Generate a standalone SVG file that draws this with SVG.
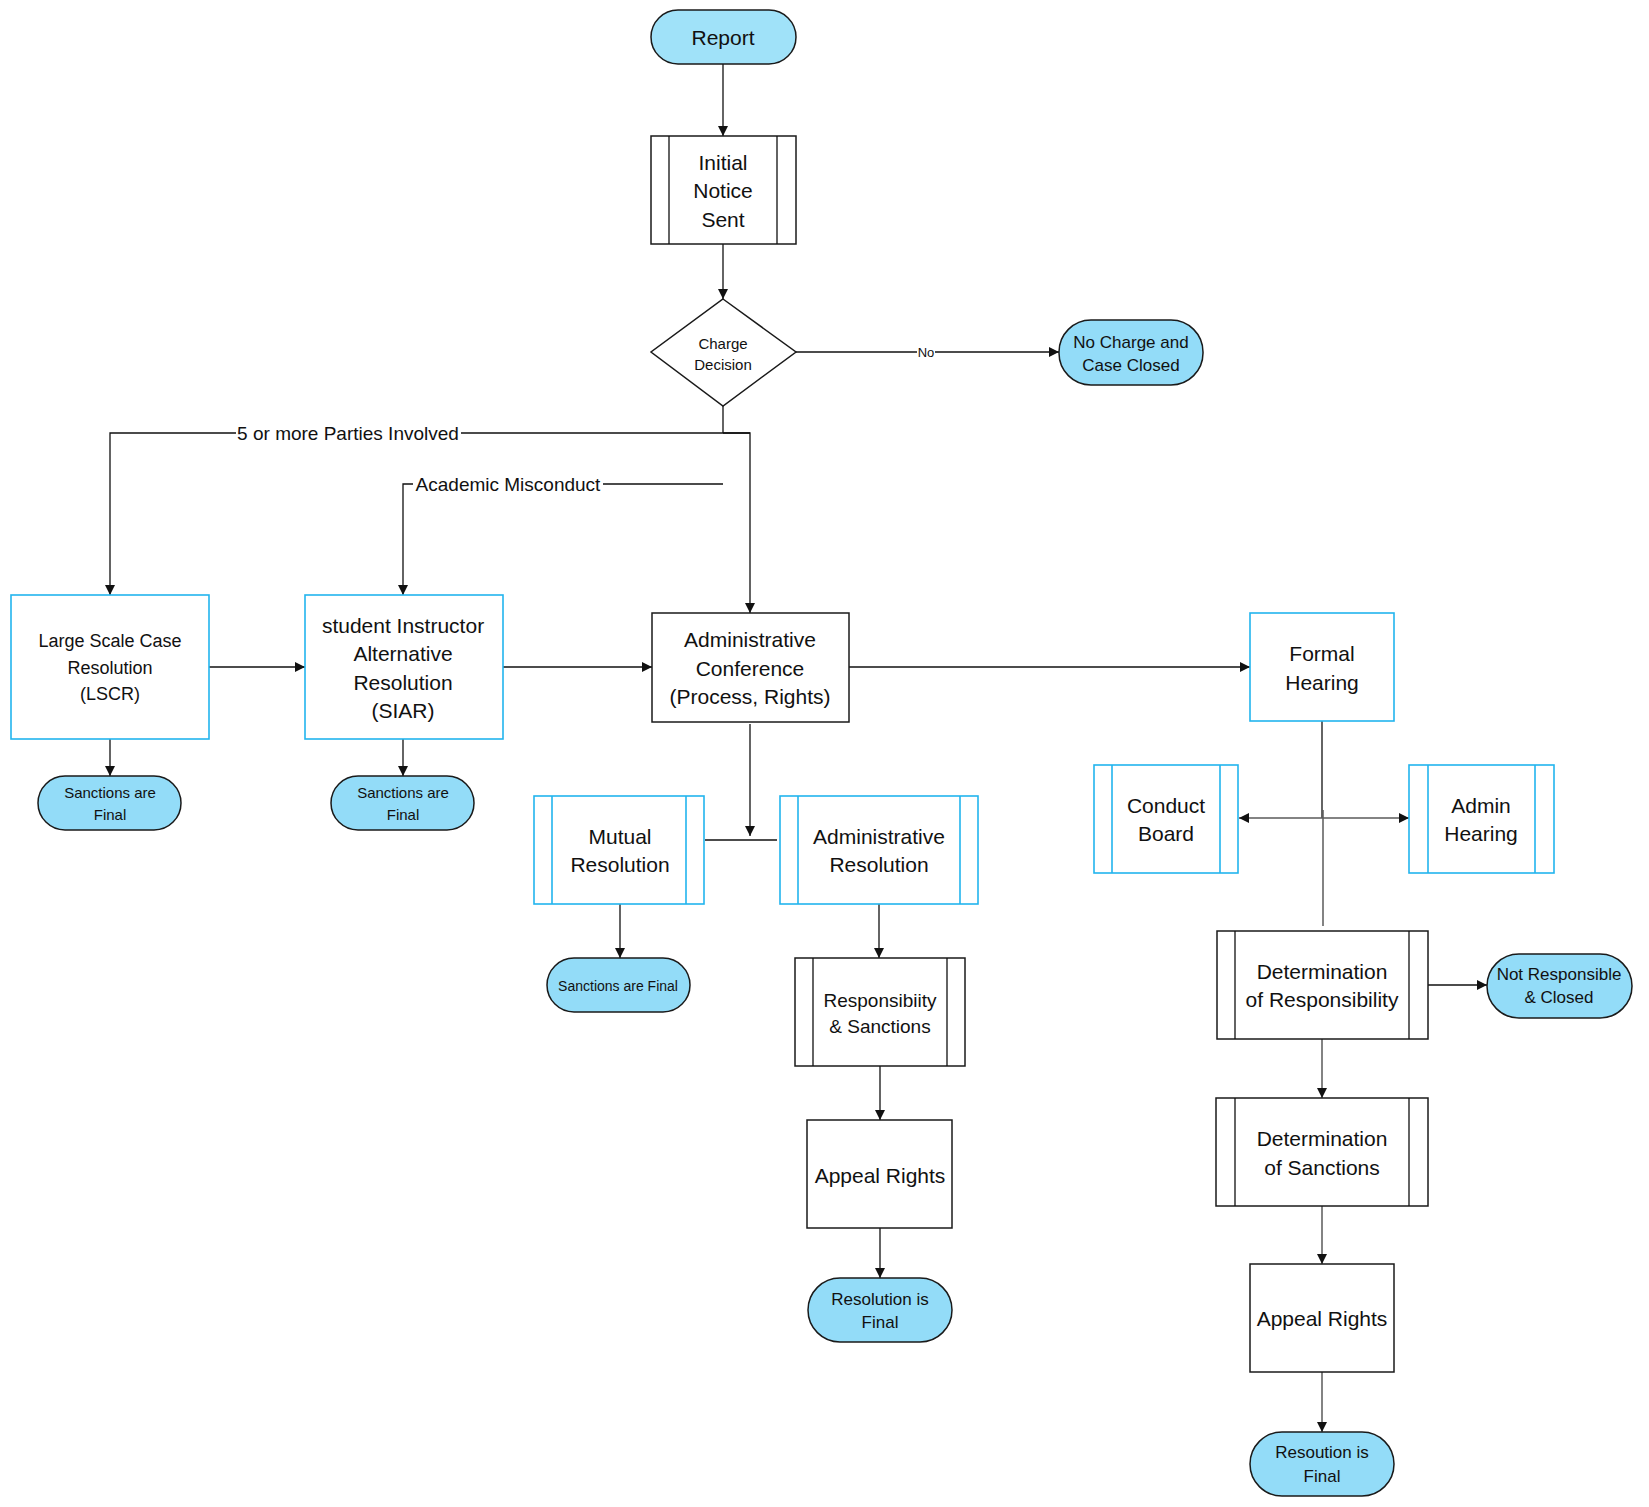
<svg xmlns="http://www.w3.org/2000/svg" width="1649" height="1507" viewBox="0 0 1649 1507">
<style>
text{font-family:"Liberation Sans",Arial,sans-serif;fill:#111;text-anchor:middle;dominant-baseline:central}
.t21{font-size:21px}.t19{font-size:19px}.t18{font-size:18px}.t17{font-size:17px}.t15{font-size:15px}.t14{font-size:14px}.t13{font-size:13px}
.blk{fill:#fff;stroke:#1a1a1a;stroke-width:1.5}
.blu{fill:#fff;stroke:#22b5ee;stroke-width:1.6}
.pill{fill:#93dcf8;stroke:#1a1a1a;stroke-width:1.5}
.ln{fill:none;stroke:#111;stroke-width:1.3}
.gr{fill:none;stroke:#5a5a5a;stroke-width:1.5}
.lbl{fill:#fff}
</style>
<defs>
<marker id="ah" viewBox="0 0 10 10" refX="10" refY="5" markerWidth="10" markerHeight="10" markerUnits="userSpaceOnUse" orient="auto-start-reverse">
<path d="M0,0 L10,5 L0,10 Z" fill="#111"/>
</marker>
</defs>
<rect width="1649" height="1507" fill="#fff"/>
<g id="connectors">
<path class="ln" d="M723,64 V136" marker-end="url(#ah)"/>
<path class="ln" d="M723,244 V299" marker-end="url(#ah)"/>
<path class="ln" d="M796,352 H1059" marker-end="url(#ah)"/>
<path class="ln" d="M723,406 V433"/>
<path class="ln" d="M750,433 H110 V595" marker-end="url(#ah)"/>
<path class="ln" d="M723,433 H750 V613" marker-end="url(#ah)"/>
<path class="ln" d="M723,484 H403 V595" marker-end="url(#ah)"/>
<path class="ln" d="M209,667 H305" marker-end="url(#ah)"/>
<path class="ln" d="M503,667 H652" marker-end="url(#ah)"/>
<path class="ln" d="M849,667 H1250" marker-end="url(#ah)"/>
<path class="ln" d="M110,739 V776" marker-end="url(#ah)"/>
<path class="ln" d="M403,739 V776" marker-end="url(#ah)"/>
<path class="ln" d="M750,724 V836" marker-end="url(#ah)"/>
<path class="ln" d="M705,840 H777"/>
<path class="ln" d="M620,904 V958" marker-end="url(#ah)"/>
<path class="ln" d="M879,904 V958" marker-end="url(#ah)"/>
<path class="ln" d="M880,1066 V1120" marker-end="url(#ah)"/>
<path class="ln" d="M880,1228 V1278" marker-end="url(#ah)"/>
<path class="ln" d="M1322,721 V818"/>
<path class="gr" d="M1322,818 H1239" marker-end="url(#ah)"/>
<path class="gr" d="M1322,818 H1409" marker-end="url(#ah)"/>
<path class="gr" d="M1323,810 V926"/>
<path class="ln" d="M1428,985 H1487" marker-end="url(#ah)"/>
<path class="gr" d="M1322,1039 V1098" marker-end="url(#ah)"/>
<path class="gr" d="M1322,1206 V1264" marker-end="url(#ah)"/>
<path class="gr" d="M1322,1372 V1432" marker-end="url(#ah)"/>
<rect class="lbl" x="917" y="344" width="18" height="16"/>
<text class="t13" x="926" y="352">No</text>
<rect class="lbl" x="236" y="422" width="225" height="22"/>
<text class="t19" x="348" y="433">5 or more Parties Involved</text>
<rect class="lbl" x="413" y="473" width="190" height="22"/>
<text class="t19" x="508" y="484">Academic Misconduct</text>
</g>
<g id="report">
<rect class="pill" x="651" y="10" width="145" height="54" rx="27" style="fill:#a0e2f9"/>
<text class="t21" x="723" y="37">Report</text>
</g>
<g id="initial-notice">
<rect class="blk" x="651" y="136" width="145" height="108"/>
<path class="ln" d="M669,136 V244 M777,136 V244"/>
<text class="t21" x="723" y="162">Initial</text>
<text class="t21" x="723" y="190">Notice</text>
<text class="t21" x="723" y="219">Sent</text>
</g>
<g id="charge-decision">
<path class="blk" d="M723,299 L796,352 L723,406 L651,352 Z"/>
<text class="t15" x="723" y="343">Charge</text>
<text class="t15" x="723" y="364">Decision</text>
</g>
<g id="no-charge">
<rect class="pill" x="1059" y="320" width="144" height="65" rx="32"/>
<text class="t17" x="1131" y="342">No Charge and</text>
<text class="t17" x="1131" y="365">Case Closed</text>
</g>
<g id="lscr">
<rect class="blu" x="11" y="595" width="198" height="144"/>
<text class="t18" x="110" y="641">Large Scale Case</text>
<text class="t18" x="110" y="668">Resolution</text>
<text class="t18" x="110" y="694">(LSCR)</text>
</g>
<g id="lscr-final">
<rect class="pill" x="38" y="776" width="143" height="54" rx="27"/>
<text class="t15" x="110" y="792">Sanctions are</text>
<text class="t15" x="110" y="814">Final</text>
</g>
<g id="siar">
<rect class="blu" x="305" y="595" width="198" height="144"/>
<text class="t21" x="403" y="625">student Instructor</text>
<text class="t21" x="403" y="653">Alternative</text>
<text class="t21" x="403" y="682">Resolution</text>
<text class="t21" x="403" y="710">(SIAR)</text>
</g>
<g id="siar-final">
<rect class="pill" x="331" y="776" width="143" height="54" rx="27"/>
<text class="t15" x="403" y="792">Sanctions are</text>
<text class="t15" x="403" y="814">Final</text>
</g>
<g id="admin-conference">
<rect class="blk" x="652" y="613" width="197" height="109"/>
<text class="t21" x="750" y="639">Administrative</text>
<text class="t21" x="750" y="668">Conference</text>
<text class="t21" x="750" y="696">(Process, Rights)</text>
</g>
<g id="formal-hearing">
<rect class="blu" x="1250" y="613" width="144" height="108"/>
<text class="t21" x="1322" y="653">Formal</text>
<text class="t21" x="1322" y="682">Hearing</text>
</g>
<g id="conduct-board">
<rect class="blu" x="1094" y="765" width="144" height="108"/>
<path class="blu" d="M1112,765 V873 M1220,765 V873"/>
<text class="t21" x="1166" y="805">Conduct</text>
<text class="t21" x="1166" y="833">Board</text>
</g>
<g id="admin-hearing">
<rect class="blu" x="1409" y="765" width="145" height="108"/>
<path class="blu" d="M1428,765 V873 M1535,765 V873"/>
<text class="t21" x="1481" y="805">Admin</text>
<text class="t21" x="1481" y="833">Hearing</text>
</g>
<g id="mutual-resolution">
<rect class="blu" x="534" y="796" width="170" height="108"/>
<path class="blu" d="M552,796 V904 M686,796 V904"/>
<text class="t21" x="620" y="836">Mutual</text>
<text class="t21" x="620" y="864">Resolution</text>
</g>
<g id="mutual-final">
<rect class="pill" x="547" y="958" width="143" height="54" rx="27"/>
<text class="t14" x="618" y="986">Sanctions are Final</text>
</g>
<g id="admin-resolution">
<rect class="blu" x="780" y="796" width="198" height="108"/>
<path class="blu" d="M798,796 V904 M960,796 V904"/>
<text class="t21" x="879" y="836">Administrative</text>
<text class="t21" x="879" y="864">Resolution</text>
</g>
<g id="resp-sanctions">
<rect class="blk" x="795" y="958" width="170" height="108"/>
<path class="ln" d="M813,958 V1066 M947,958 V1066"/>
<text class="t19" x="880" y="1000">Responsibiity</text>
<text class="t19" x="880" y="1026">&amp; Sanctions</text>
</g>
<g id="appeal-left">
<rect class="blk" x="807" y="1120" width="145" height="108"/>
<text class="t21" x="880" y="1175">Appeal Rights</text>
</g>
<g id="resolution-final">
<rect class="pill" x="808" y="1278" width="144" height="64" rx="32"/>
<text class="t17" x="880" y="1299">Resolution is</text>
<text class="t17" x="880" y="1322">Final</text>
</g>
<g id="det-responsibility">
<rect class="blk" x="1217" y="931" width="211" height="108"/>
<path class="ln" d="M1235,931 V1039 M1409,931 V1039"/>
<text class="t21" x="1322" y="971">Determination</text>
<text class="t21" x="1322" y="999">of Responsibility</text>
</g>
<g id="not-responsible">
<rect class="pill" x="1487" y="954" width="145" height="64" rx="32"/>
<text class="t17" x="1559" y="974">Not Responsible</text>
<text class="t17" x="1559" y="997">&amp; Closed</text>
</g>
<g id="det-sanctions">
<rect class="blk" x="1216" y="1098" width="212" height="108"/>
<path class="ln" d="M1235,1098 V1206 M1409,1098 V1206"/>
<text class="t21" x="1322" y="1138">Determination</text>
<text class="t21" x="1322" y="1167">of Sanctions</text>
</g>
<g id="appeal-right">
<rect class="blk" x="1250" y="1264" width="144" height="108"/>
<text class="t21" x="1322" y="1318">Appeal Rights</text>
</g>
<g id="resoution-final">
<rect class="pill" x="1250" y="1432" width="144" height="64" rx="32"/>
<text class="t17" x="1322" y="1452">Resoution is</text>
<text class="t17" x="1322" y="1476">Final</text>
</g>
</svg>
